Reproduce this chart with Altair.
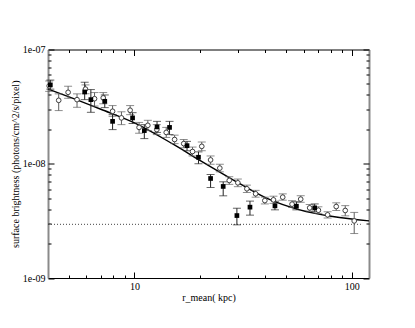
import altair as alt
import pandas as pd

# filled squares: radius (kpc), surface brightness, error low / high
sq_r  = [4.1, 5.9, 6.3, 7.3, 7.93, 9.8, 11.1, 12.7, 14.5, 17.45, 19.7, 22.4, 25.6, 29.6, 34.0, 44.3, 55.6, 67.5]
sq_sb = [4.9e-8, 4.25e-8, 3.64e-8, 3.52e-8, 2.35e-8, 2.52e-8, 1.95e-8, 2.10e-8, 2.08e-8, 1.44e-8, 1.14e-8,
         7.43e-9, 6.33e-9, 3.52e-9, 4.17e-9, 4.28e-9, 4.25e-9, 4.11e-9]
sq_lo = [4.5e-8, 3.64e-8, 2.82e-8, 3.1e-8, 1.99e-8, 2.25e-8, 1.66e-8, 1.88e-8, 1.8e-8, 1.3e-8, 1.0e-8,
         6.2e-9, 5.24e-9, 2.92e-9, 3.55e-9, 3.95e-9, 3.95e-9, 3.8e-9]
sq_hi = [5.4e-8, 5.17e-8, 4.46e-8, 4.0e-8, 2.69e-8, 2.8e-8, 2.2e-8, 2.35e-8, 2.35e-8, 1.57e-8, 1.27e-8,
         8.05e-9, 6.95e-9, 4.08e-9, 4.71e-9, 4.7e-9, 4.65e-9, 4.45e-9]

# open circles
ci_r  = [4.05, 4.48, 4.95, 5.44, 5.95, 6.55, 7.18, 7.93, 8.71, 9.55, 10.5, 11.52, 12.67, 14.0, 15.3, 16.85,
         18.5, 20.4, 22.4, 24.7, 27.3, 29.9, 32.9, 36.1, 39.8, 43.6, 48.1, 53.1, 58.2, 64.0, 70.2, 77.4,
         84.8, 93.3, 102.6]
ci_sb = [4.8e-8, 3.59e-8, 4.22e-8, 3.64e-8, 4.5e-8, 3.71e-8, 3.77e-8, 2.88e-8, 2.52e-8, 2.94e-8, 2.08e-8,
         2.17e-8, 1.99e-8, 1.88e-8, 1.63e-8, 1.50e-8, 1.28e-8, 1.42e-8, 1.08e-8, 9.16e-9, 7.14e-9, 6.81e-9,
         6.04e-9, 5.46e-9, 4.76e-9, 4.83e-9, 5.10e-9, 4.43e-9, 4.9e-9, 4.11e-9, 3.92e-9, 3.57e-9, 4.22e-9,
         3.9e-9, 3.16e-9]
ci_lo = [4.3e-8, 2.92e-8, 3.74e-8, 3.12e-8, 4.1e-8, 3.2e-8, 3.35e-8, 2.6e-8, 2.2e-8, 2.69e-8, 1.85e-8,
         1.95e-8, 1.8e-8, 1.7e-8, 1.5e-8, 1.38e-8, 1.17e-8, 1.3e-8, 0.99e-8, 8.5e-9, 6.6e-9, 6.3e-9,
         5.6e-9, 5.1e-9, 4.45e-9, 4.5e-9, 4.8e-9, 4.15e-9, 4.6e-9, 3.85e-9, 3.68e-9, 3.35e-9, 3.9e-9,
         3.5e-9, 2.45e-9]
ci_hi = [5.3e-8, 4.09e-8, 4.77e-8, 4.09e-8, 4.9e-8, 4.2e-8, 4.2e-8, 3.23e-8, 2.85e-8, 3.23e-8, 2.3e-8,
         2.4e-8, 2.2e-8, 2.08e-8, 1.78e-8, 1.63e-8, 1.4e-8, 1.55e-8, 1.17e-8, 9.9e-9, 7.7e-9, 7.35e-9,
         6.5e-9, 5.85e-9, 5.1e-9, 5.2e-9, 5.45e-9, 4.75e-9, 5.25e-9, 4.4e-9, 4.2e-9, 3.8e-9, 4.55e-9,
         4.3e-9, 3.75e-9]

# fitted model curve
fit_r  = [4, 5, 7, 10, 15, 20, 28.4, 40.5, 57.6, 81.7, 120]
fit_sb = [4.5e-8, 3.85e-8, 3.0e-8, 2.28e-8, 1.49e-8, 1.07e-8, 7.24e-9, 5.0e-9, 3.95e-9, 3.45e-9, 3.16e-9]

# background level
bg_r  = [4, 110]
bg_sb = [2.95e-9, 2.95e-9]

# axis tick values
x_major = [10, 100]
x_minor = [5, 6, 7, 8, 9, 20, 30, 40, 50, 60, 70, 80, 90]
y_major = [1e-9, 1e-8, 1e-7]
y_minor = [m * 10.0 ** e for e in (-9, -8) for m in range(2, 10)]

df_sq = pd.DataFrame({"r": sq_r, "sb": sq_sb, "lo": sq_lo, "hi": sq_hi})
df_ci = pd.DataFrame({"r": ci_r, "sb": ci_sb, "lo": ci_lo, "hi": ci_hi})
df_fit = pd.DataFrame({"r": fit_r, "sb": fit_sb})
df_bg = pd.DataFrame({"r": bg_r, "sb": bg_sb})

FONT = "Liberation Serif"
xs = alt.Scale(type="log", domain=[4, 120], nice=False)
ys = alt.Scale(type="log", domain=[1e-9, 1e-7], nice=False)


def tick_axis(orient, values, size, color="black"):
    return alt.Axis(orient=orient, offset=-size, values=values, tickSize=size, ticks=True,
                    tickColor=color, tickWidth=1, labels=False, domain=False, grid=False, title=None)


def frame_axis(orient, color, width):
    return alt.Axis(orient=orient, ticks=False, labels=False, domain=True, domainColor=color,
                    domainWidth=width, grid=False, title=None)


x_main = alt.Axis(orient="bottom", values=x_major, ticks=False, domain=True, domainColor="black",
                  domainWidth=1, grid=False, format="d", labelFont=FONT, labelFontSize=10,
                  labelColor="black", labelPadding=3, title="r_mean( kpc)", titleFont=FONT,
                  titleFontSize=10, titleFontWeight="normal", titleColor="black", titlePadding=1)
y_main = alt.Axis(orient="left", values=y_major, ticks=False, domain=True, domainColor="#8a8a8a",
                  domainWidth=2, grid=False,
                  labelExpr="'1e-0' + round(-log(datum.value)/LN10)", labelFont=FONT,
                  labelFontSize=10, labelColor="black", labelPadding=3,
                  title="surface brightness (photons/cm^2/s/pixel)", titleFont=FONT, titleFontSize=10,
                  titleFontWeight="normal", titleColor="black", titlePadding=2)

fit = alt.Chart(df_fit).mark_line(color="black", strokeWidth=1.4, interpolate="monotone").encode(
    x=alt.X("r:Q", scale=xs, axis=x_main),
    y=alt.Y("sb:Q", scale=ys, axis=y_main),
)
bg = alt.Chart(df_bg).mark_line(color="#444", strokeWidth=1, strokeDash=[1, 2]).encode(
    x=alt.X("r:Q", scale=xs, axis=frame_axis("top", "black", 1)),
    y=alt.Y("sb:Q", scale=ys, axis=frame_axis("right", "#8a8a8a", 2)),
)

def bars(df, color, xa, ya):
    return alt.Chart(df).mark_rule(color=color, strokeWidth=1).encode(
        x=alt.X("r:Q", scale=xs, axis=xa),
        y=alt.Y("lo:Q", scale=ys, axis=ya),
        y2="hi:Q",
    )

def caps(df, field, color, xa, ya):
    return alt.Chart(df).mark_tick(color=color, orient="horizontal", size=8, thickness=1).encode(
        x=alt.X("r:Q", scale=xs, axis=xa),
        y=alt.Y(f"{field}:Q", scale=ys, axis=ya),
    )

ci_col = "#5e5e5e"
sq_col = "#222222"

layers = [
    fit,
    bg,
    bars(df_ci, ci_col, tick_axis("bottom", x_major, 6), tick_axis("left", y_major, 6)),
    caps(df_ci, "lo", ci_col, tick_axis("bottom", x_minor, 3), tick_axis("left", y_minor, 3)),
    caps(df_ci, "hi", ci_col, tick_axis("top", x_major, 6), tick_axis("right", y_major, 6)),
    bars(df_sq, sq_col, tick_axis("top", x_minor, 3), tick_axis("right", y_minor, 3)),
    caps(df_sq, "lo", sq_col, None, None),
    caps(df_sq, "hi", sq_col, None, None),
    alt.Chart(df_ci).mark_point(shape="circle", filled=True, fill="white", stroke="#404040",
                                strokeWidth=1, size=22, opacity=1).encode(
        x=alt.X("r:Q", scale=xs, axis=None), y=alt.Y("sb:Q", scale=ys, axis=None)),
    alt.Chart(df_sq).mark_square(color="black", size=22, opacity=1).encode(
        x=alt.X("r:Q", scale=xs, axis=None), y=alt.Y("sb:Q", scale=ys, axis=None)),
]

chart = alt.layer(*layers).resolve_axis(x="independent", y="independent").properties(
    width=321, height=228.5,
    autosize=alt.AutoSizeParams(type="none"),
    padding={"left": 40, "top": 41.5, "right": 30, "bottom": 40},
    background="white",
).configure_view(stroke=None)

chart.save("out.html", embed_options={"renderer": "svg", "actions": False})
